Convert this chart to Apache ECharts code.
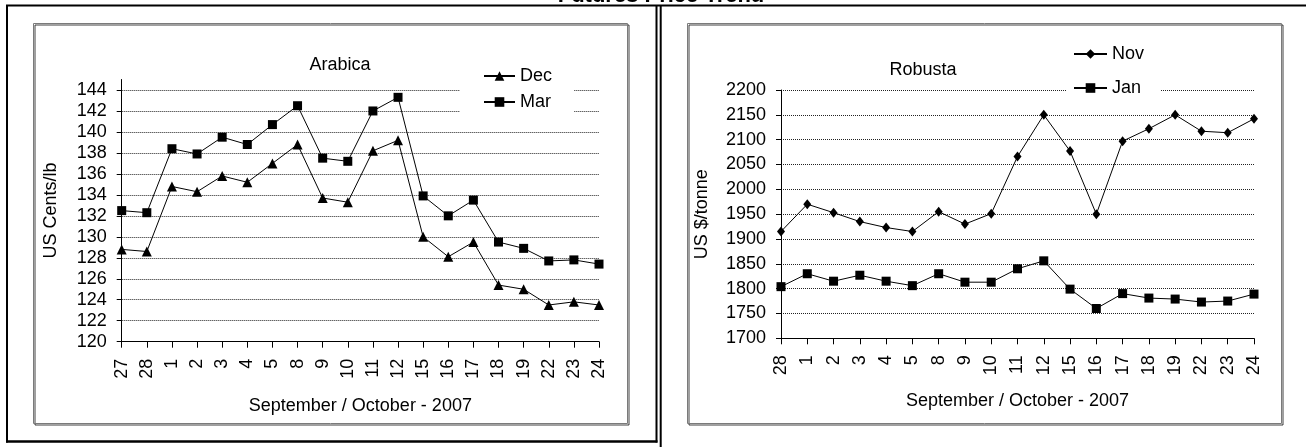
<!DOCTYPE html>
<html>
<head>
<meta charset="utf-8">
<script src="https://cdn.jsdelivr.net/npm/echarts@6/dist/echarts.min.js"></script>
<style>
html,body{margin:0;padding:0;background:#fff;}
#chart{width:1306px;height:447px;}
</style>
</head>
<body>
<div id="chart"></div>
<script>
// ---- data ----
const arabicaDays = ['27','28','1','2','3','4','5','8','9','10','11','12','15','16','17','18','19','22','23','24'];
const arabicaDec = [128.8,128.6,134.8,134.3,135.8,135.2,137.0,138.8,133.7,133.3,138.2,139.2,130.0,128.1,129.5,125.4,125.0,123.5,123.8,123.5];
const arabicaMar = [132.5,132.3,138.4,137.9,139.5,138.8,140.7,142.5,137.5,137.2,142.0,143.3,133.9,132.0,133.5,129.5,128.9,127.7,127.8,127.4];
const robustaDays = ['28','1','2','3','4','5','8','9','10','11','12','15','16','17','18','19','22','23','24'];
const robustaNov = [1915,1970,1953,1935,1923,1915,1955,1930,1951,2066,2150,2077,1950,2097,2122,2150,2117,2114,2142];
const robustaJan = [1804,1830,1815,1827,1815,1806,1830,1813,1813,1840,1856,1799,1760,1790,1781,1779,1773,1775,1789];
const arabicaTicks = [120,122,124,126,128,130,132,134,136,138,140,142,144];

const FONT = "'Liberation Sans',Arial,sans-serif";
const TXT = {fontFamily: FONT, fontSize: 18, color: '#000'};

const chart = echarts.init(document.getElementById('chart'), null, {renderer: 'canvas'});

function frameLine(x1, y1, x2, y2, w) {
  return {type: 'line', silent: true, z: 100,
    shape: {x1: x1, y1: y1, x2: x2, y2: y2},
    style: {stroke: '#000', lineWidth: w}};
}
function innerBox(x, y, w, h) {
  return {type: 'rect', silent: true, z: -10,
    shape: {x: x, y: y, width: w, height: h},
    style: {fill: 'none', stroke: '#7a7a7a', lineWidth: 1,
      shadowColor: 'rgba(0,0,0,0.75)', shadowOffsetX: 1.5, shadowOffsetY: 1.5, shadowBlur: 0}};
}
const plain = function (v) { return String(v); };

const xAxisCommon = {
  type: 'category', boundaryGap: false,
  axisLine: {lineStyle: {color: '#000', width: 1}},
  axisTick: {show: true, interval: 0, length: 6, lineStyle: {color: '#000'}},
  axisLabel: Object.assign({rotate: 90, interval: 0, margin: 17}, TXT),
  nameLocation: 'middle', nameTextStyle: TXT, splitLine: {show: false}
};
const yAxisCommon = {
  type: 'value',
  axisLine: {show: true, lineStyle: {color: '#000', width: 1}},
  axisTick: {show: true, length: 5, lineStyle: {color: '#000'}},
  axisLabel: Object.assign({margin: 15, formatter: plain}, TXT),
  splitLine: {show: true, lineStyle: {color: '#222', type: 'dotted', width: 1}},
  nameLocation: 'middle', nameRotate: 90, nameTextStyle: TXT
};

const option = {
  animation: false,
  backgroundColor: '#fff',
  title: [
    {text: 'Futures Price Trend', left: 656, top: -20, textAlign: 'center',
      textStyle: {fontFamily: FONT, fontWeight: 'bold', fontSize: 22, color: '#000'}},
    {text: 'Arabica', left: 335, top: 51, textAlign: 'center', textStyle: Object.assign({fontWeight: 'normal'}, TXT)},
    {text: 'Robusta', left: 918, top: 56, textAlign: 'center', textStyle: Object.assign({fontWeight: 'normal'}, TXT)}
  ],
  legend: [
    {data: ['Dec', 'Mar'], orient: 'vertical', left: 460, top: 62,
      backgroundColor: '#fff', padding: [5, 22, 6, 23], itemGap: 8,
      itemWidth: 31, itemHeight: 12, textStyle: TXT, selectedMode: false},
    {data: ['Nov', 'Jan'], orient: 'vertical', left: 1067, top: 40,
      backgroundColor: '#fff', padding: [5, 16, 4, 6], itemGap: 16,
      itemWidth: 33, itemHeight: 12, textStyle: TXT, selectedMode: false}
  ],
  grid: [
    {left: 121.7, right: 707, top: 79.5, bottom: 105.3, outerBoundsMode: 'none', containLabel: false},
    {left: 781, right: 52, top: 90, bottom: 108.7, outerBoundsMode: 'none', containLabel: false}
  ],
  xAxis: [
    Object.assign({}, xAxisCommon, {gridIndex: 0, data: arabicaDays, name: 'September / October - 2007', nameGap: 55}),
    Object.assign({}, xAxisCommon, {gridIndex: 1, data: robustaDays, name: 'September / October - 2007', nameGap: 54})
  ],
  yAxis: [
    Object.assign({}, yAxisCommon, {gridIndex: 0, min: 120, max: 145, interval: 2, name: 'US Cents/lb', nameGap: 62,
      axisLabel: Object.assign({margin: 15, formatter: plain, customValues: arabicaTicks}, TXT),
      axisTick: {show: true, length: 5, lineStyle: {color: '#000'}, customValues: arabicaTicks},
      splitLine: {show: true, lineStyle: {color: '#222', type: 'dotted', width: 1}}}),
    Object.assign({}, yAxisCommon, {gridIndex: 1, min: 1700, max: 2200, interval: 50, name: 'US $/tonne', nameGap: 70})
  ],
  series: [
    {name: 'Dec', type: 'line', xAxisIndex: 0, yAxisIndex: 0, data: arabicaDec,
      symbol: 'triangle', symbolSize: 10, showAllSymbol: true,
      lineStyle: {color: '#000', width: 1}, itemStyle: {color: '#000'}},
    {name: 'Mar', type: 'line', xAxisIndex: 0, yAxisIndex: 0, data: arabicaMar,
      symbol: 'rect', symbolSize: 9, showAllSymbol: true,
      lineStyle: {color: '#000', width: 1}, itemStyle: {color: '#000'}},
    {name: 'Nov', type: 'line', xAxisIndex: 1, yAxisIndex: 1, data: robustaNov,
      symbol: 'diamond', symbolSize: [8, 10], showAllSymbol: true,
      lineStyle: {color: '#000', width: 1}, itemStyle: {color: '#000'}},
    {name: 'Jan', type: 'line', xAxisIndex: 1, yAxisIndex: 1, data: robustaJan,
      symbol: 'rect', symbolSize: 9, showAllSymbol: true,
      lineStyle: {color: '#000', width: 1}, itemStyle: {color: '#000'}}
  ],
  graphic: [
    frameLine(6, 5.5, 1306, 5.5, 2),
    frameLine(7, 5, 7, 442.5, 2),
    frameLine(6, 441.5, 657.5, 441.5, 2.5),
    frameLine(656.5, 5, 656.5, 442.5, 2),
    frameLine(660.7, 5, 660.7, 447, 2),
    innerBox(33.5, 23.5, 594, 400),
    innerBox(687.5, 23.5, 594, 400)
  ]
};
chart.setOption(option);
</script>
</body>
</html>
